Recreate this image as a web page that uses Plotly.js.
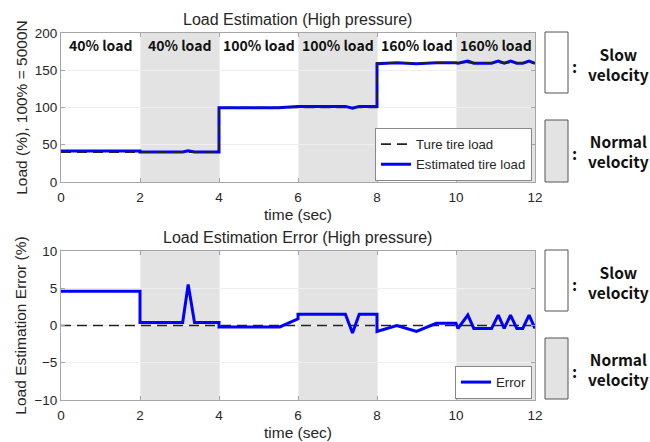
<!DOCTYPE html>
<html><head><meta charset="utf-8">
<script src="https://cdn.plot.ly/plotly-3.0.1.min.js"></script>
<style>html,body{margin:0;padding:0;background:#fff}#chart{width:650px;height:442px}</style>
</head><body><div id="chart"></div>
<script>
// ---- data ----
const trueT = [0, 4, 4, 8, 8, 12];
const trueV = [40, 40, 100, 100, 160, 160];
const estT = [0, 2, 2, 3.08, 3.22, 3.38, 4, 4, 5.5, 6, 6, 7.2, 7.38, 7.55, 8, 8, 8.5, 9, 9.5, 10, 10.05, 10.3, 10.45, 10.9, 11.07, 11.22, 11.38, 11.54, 11.69, 11.85, 12];
const estV = [41.5, 41.5, 40.2, 40.2, 42, 40.2, 40.2, 99.8, 99.8, 100.8, 101.5, 101.5, 99, 101.5, 101.5, 158.8, 160, 158.8, 160, 160, 159.4, 162.2, 159.4, 159.4, 162.2, 159.4, 162.2, 159.4, 159.4, 162.2, 159.4];
const errT = [0, 2, 2, 3.08, 3.22, 3.38, 4, 4, 5.54, 6, 6, 7.2, 7.38, 7.55, 8, 8, 8.5, 9, 9.5, 10, 10.05, 10.3, 10.45, 10.9, 11.07, 11.22, 11.38, 11.54, 11.69, 11.85, 12];
const errV = [4.6, 4.6, 0.4, 0.4, 5.5, 0.4, 0.4, -0.2, -0.2, 0.9, 1.5, 1.5, -1, 1.5, 1.5, -0.8, 0, -0.8, 0.3, 0.3, -0.4, 1.4, -0.4, -0.4, 1.4, -0.4, 1.4, -0.4, -0.4, 1.4, -0.4];
const refT = [0, 12];
const refV = [0, 0];
const shadeStart = [2, 6, 10];
const shadeEnd = [4, 8, 12];
const segCenters = [1, 3, 5, 7, 9, 11];
const segLabels = ["40% load", "40% load", "100% load", "100% load", "160% load", "160% load"];
const xTicks = [0, 2, 4, 6, 8, 10, 12];
const loadTicks = [0, 50, 100, 150, 200];
const errTicks = [-10, -5, 0, 5, 10];

// ---- layout helpers ----
const W = 650, H = 442;
const px = v => v / W, py = v => 1 - v / H;
const BLUE = '#0000ff', GRAY = '#e3e3e3', AX = '#a6a6a6', TXT = '#262626';
const FONT = 'Liberation Sans, Arial, sans-serif';
const BOLD = 'Noto Sans CJK KR, Noto Sans, sans-serif';

const traces = [
  {x: estT, y: estV, xaxis: 'x', yaxis: 'y', mode: 'lines', name: 'Estimated tire load',
   line: {color: BLUE, width: 3}, legend: 'legend'},
  {x: trueT, y: trueV, xaxis: 'x', yaxis: 'y', mode: 'lines', name: 'Ture tire load',
   line: {color: '#222', width: 1.6, dash: '10px,6px'}, legend: 'legend'},
  {x: refT, y: refV, xaxis: 'x2', yaxis: 'y2', mode: 'lines', showlegend: false,
   line: {color: '#222', width: 1.6, dash: '10px,6px'}},
  {x: errT, y: errV, xaxis: 'x2', yaxis: 'y2', mode: 'lines', name: 'Error',
   line: {color: BLUE, width: 3}, legend: 'legend2'}
];

const shapes = [];
const ys = [['y', 0, 200], ['y2', -10, 10]];
ys.forEach(([yr, lo, hi], k) => {
  const xr = k === 0 ? 'x' : 'x2';
  shadeStart.forEach((s, i) => shapes.push({type: 'rect', xref: xr, yref: yr, x0: s, x1: shadeEnd[i], y0: lo, y1: hi,
    fillcolor: GRAY, line: {width: 0}, layer: 'below'}));
});
// right side key boxes
const keyBoxes = [[32, 93, '#ffffff'], [120, 182, GRAY], [250, 311, '#ffffff'], [338, 399, GRAY]];
keyBoxes.forEach(([t, b, c]) => shapes.push({type: 'rect', xref: 'paper', yref: 'paper',
  x0: px(545), x1: px(568), y0: py(b), y1: py(t), fillcolor: c, line: {color: '#555', width: 1}}));

const annotations = [];
segCenters.forEach((c, i) => annotations.push({x: c, y: 184, xref: 'x', yref: 'y', text: segLabels[i], showarrow: false,
  xanchor: 'center', yanchor: 'middle', font: {family: BOLD, size: 14, color: '#111', weight: 'bold'}}));
annotations.push({x: px(297), y: py(20), xref: 'paper', yref: 'paper', text: 'Load Estimation (High pressure)', showarrow: false,
  xanchor: 'center', yanchor: 'middle', font: {family: FONT, size: 16, color: TXT}});
annotations.push({x: px(297), y: py(237), xref: 'paper', yref: 'paper', text: 'Load Estimation Error (High pressure)', showarrow: false,
  xanchor: 'center', yanchor: 'middle', font: {family: FONT, size: 16, color: TXT}});
const keyTexts = [[64, 'Slow<br>velocity'], [151, 'Normal<br>velocity'], [282, 'Slow<br>velocity'], [369, 'Normal<br>velocity']];
keyTexts.forEach(([cy, t]) => {
  annotations.push({x: px(574), y: py(cy + 2), xref: 'paper', yref: 'paper', text: ':', showarrow: false,
    xanchor: 'center', yanchor: 'middle', font: {family: BOLD, size: 16, color: '#111', weight: 'bold'}});
  annotations.push({x: px(618), y: py(cy), xref: 'paper', yref: 'paper', text: t, showarrow: false,
    xanchor: 'center', yanchor: 'middle', align: 'center', font: {family: BOLD, size: 15.5, color: '#111', weight: 'bold'}});
});

const axBase = {showline: true, linecolor: AX, linewidth: 1, mirror: 'ticks', ticks: 'inside', ticklen: 4, tickcolor: AX,
  showgrid: true, gridcolor: '#efefef', gridwidth: 1, zeroline: false, tickfont: {family: FONT, size: 13.5, color: TXT}};
const dx = [px(61), px(535)];
const titleFont = {family: FONT, size: 15.5, color: TXT};

const layout = {
  width: W, height: H, margin: {l: 0, r: 0, t: 0, b: 0}, paper_bgcolor: '#fff', plot_bgcolor: '#fff',
  showlegend: true,
  xaxis: Object.assign({}, axBase, {domain: dx, range: [0, 12], tickvals: xTicks, anchor: 'y', ticklabelstandoff: 3,
    title: {text: 'time (sec)', standoff: 4, font: titleFont}}),
  yaxis: Object.assign({}, axBase, {domain: [py(182), py(33)], range: [0, 200], tickvals: loadTicks, anchor: 'x',
    title: {text: 'Load (%), 100% = 5000N', standoff: 3, font: titleFont}}),
  xaxis2: Object.assign({}, axBase, {domain: dx, range: [0, 12], tickvals: xTicks, anchor: 'y2', ticklabelstandoff: 3,
    title: {text: 'time (sec)', standoff: 4, font: titleFont}}),
  yaxis2: Object.assign({}, axBase, {domain: [py(400), py(251)], range: [-10, 10], tickvals: errTicks, anchor: 'x2',
    title: {text: 'Load Estimation Error (%)', standoff: 3, font: titleFont}}),
  legend: {x: px(532), y: py(181), xref: 'paper', yref: 'paper', xanchor: 'right', yanchor: 'bottom',
    bgcolor: '#fff', bordercolor: '#888', borderwidth: 1, font: {family: FONT, size: 13.2, color: TXT},
    tracegroupgap: 0, itemwidth: 30, traceorder: 'reversed'},
  legend2: {x: px(532), y: py(399), xref: 'paper', yref: 'paper', xanchor: 'right', yanchor: 'bottom',
    bgcolor: '#fff', bordercolor: '#888', borderwidth: 1, font: {family: FONT, size: 13.2, color: TXT}, itemwidth: 30},
  shapes: shapes, annotations: annotations
};
Plotly.newPlot('chart', traces, layout, {displayModeBar: false, staticPlot: true});
</script></body></html>
